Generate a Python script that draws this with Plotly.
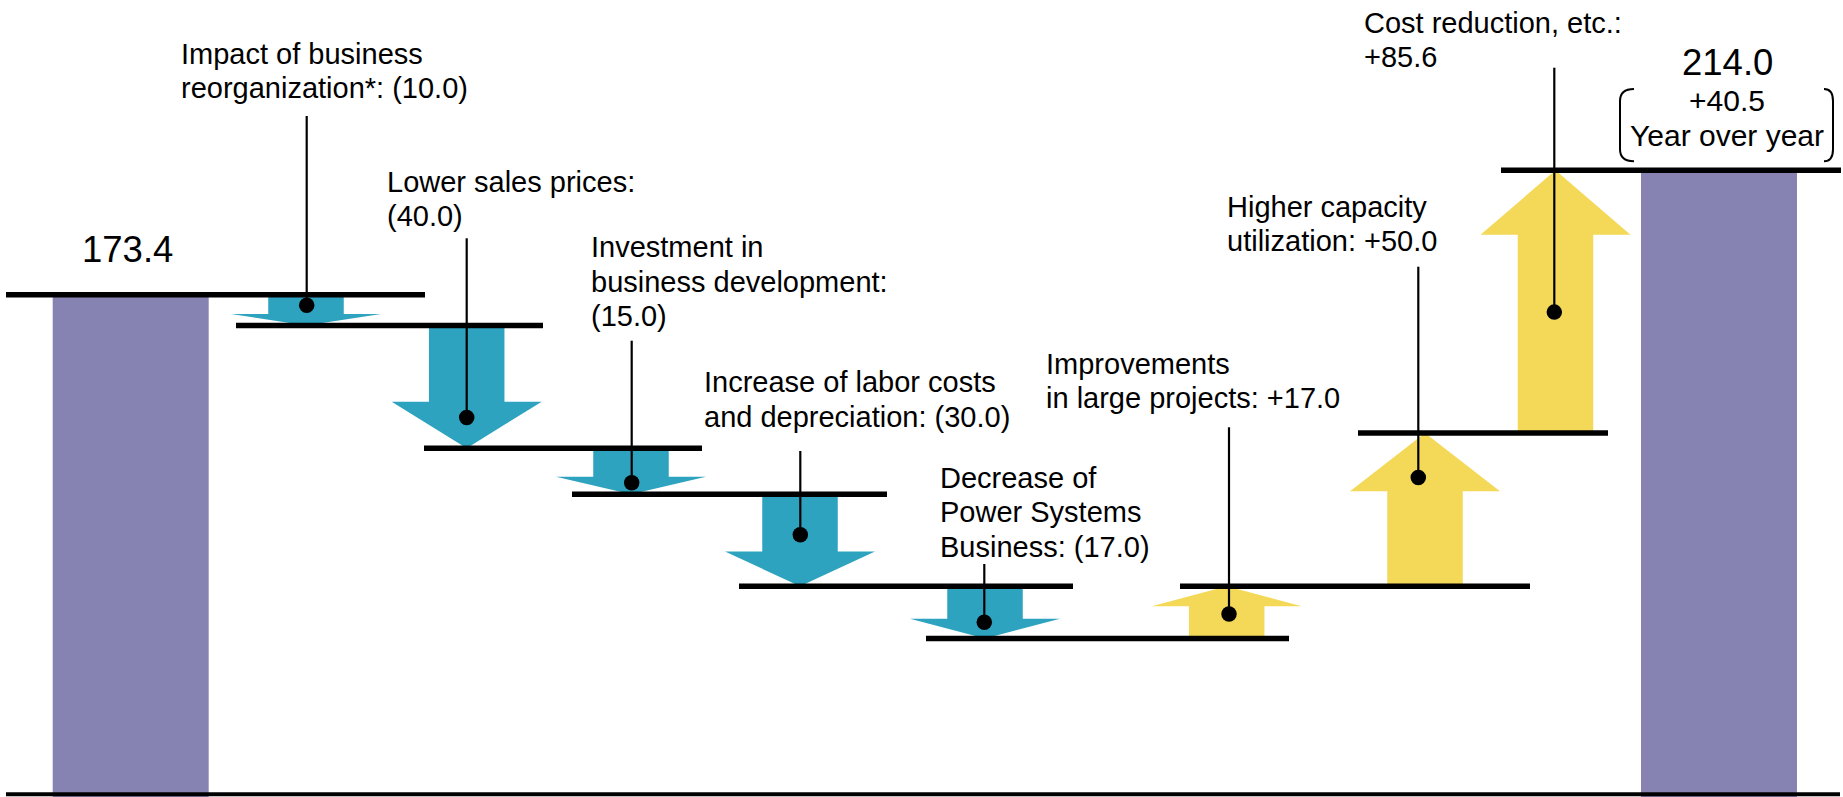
import plotly.graph_objects as go

# ---------------- data ----------------
start_value = 173.4
end_value = 214.0
total_labels = ["173.4", "214.0"]
yoy_text = "+40.5"
yoy_caption = "Year over year"

factor_values = [-10.0, -40.0, -15.0, -30.0, -17.0, 17.0, 50.0, 85.6]
factor_labels = [
    ["Impact of business", "reorganization*: (10.0)"],
    ["Lower sales prices:", "(40.0)"],
    ["Investment in", "business development:", "(15.0)"],
    ["Increase of labor costs", "and depreciation: (30.0)"],
    ["Decrease of", "Power Systems", "Business: (17.0)"],
    ["Improvements", "in large projects: +17.0"],
    ["Higher capacity", "utilization: +50.0"],
    ["Cost reduction, etc.:", "+85.6"],
]

# ---------------- layout / geometry (pixels) ----------------
W, H = 1843, 797
Y_TOP, Y_BOT = 269.5, 9.75            # value range of the (hidden) y axis

BAR_X = [130.7, 1719.0]
BAR_W = 156
ARROW_X = [306.0, 466.7, 631.0, 800.0, 985.0, 1226.7, 1425.0, 1555.5]
SHAFT_W, HEAD_W = 75.5, 150
HEAD_FRAC, HEAD_MAX = 0.38, 21.0

LINE_SPANS = [(6, 425), (236, 543), (424, 702), (572, 887), (739, 1073),
              (926, 1289), (1180, 1530), (1358, 1608), (1501, 1841)]
CALLOUT_X = [306.7, 466.7, 631.7, 800.3, 984.3, 1229.0, 1418.3, 1554.3]
CALLOUT_TOP_PX = [116, 238.3, 340.7, 451, 564, 427.3, 266.7, 67.7]
DOT_FRAC = [0.34, 0.75, 0.75, 0.44, 0.69, 0.47, 0.71, 0.46]
LABEL_LEFT = [180, 385.7, 590, 702.7, 938.7, 1045, 1226, 1363]
LABEL_BASE = [64, 191.7, 257.3, 392.3, 487.7, 374, 216.7, 33]
LINE_GAP = 34.5

PURPLE = "#8682B2"
TEAL = "#2EA3C0"
YELLOW = "#F4D958"
FONT = "Liberation Sans, Arial, sans-serif"
FS = 29


def px_to_val(py):
    return Y_TOP - py / H * (Y_TOP - Y_BOT)


def val_to_px(v):
    return (Y_TOP - v) / (Y_TOP - Y_BOT) * H


levels = [start_value]
for v in factor_values:
    levels.append(round(levels[-1] + v, 1))

fig = go.Figure()

# start / end totals
fig.add_trace(go.Bar(x=BAR_X, y=[start_value, end_value], width=BAR_W,
                     marker=dict(color=PURPLE, line=dict(width=0)),
                     hoverinfo="skip", showlegend=False))

# arrows
for i, v in enumerate(factor_values):
    s, e = levels[i], levels[i + 1]
    c = ARROW_X[i]
    h = min(HEAD_FRAC * abs(v), HEAD_MAX)
    sign = 1 if e > s else -1
    neck = e - sign * h
    xs = [c - SHAFT_W / 2, c + SHAFT_W / 2, c + SHAFT_W / 2, c + HEAD_W / 2, c,
          c - HEAD_W / 2, c - SHAFT_W / 2, c - SHAFT_W / 2]
    ys = [s, s, neck, neck, e, neck, neck, s]
    fig.add_trace(go.Scatter(x=xs, y=ys, mode="lines", fill="toself",
                             fillcolor=TEAL if v < 0 else YELLOW,
                             line=dict(width=0, color="rgba(0,0,0,0)"),
                             hoverinfo="skip", showlegend=False))

# level lines
for i, lvl in enumerate(levels):
    x0, x1 = LINE_SPANS[i]
    fig.add_trace(go.Scatter(x=[x0, x1], y=[lvl, lvl], mode="lines",
                             line=dict(color="black", width=5.5),
                             hoverinfo="skip", showlegend=False))

# baseline
fig.add_trace(go.Scatter(x=[6, 1840], y=[px_to_val(794.3)] * 2, mode="lines",
                         line=dict(color="black", width=4),
                         hoverinfo="skip", showlegend=False))

# callout lines and dots
dot_x, dot_y = [], []
for i, v in enumerate(factor_values):
    d = levels[i] + DOT_FRAC[i] * v
    fig.add_trace(go.Scatter(x=[CALLOUT_X[i]] * 2, y=[px_to_val(CALLOUT_TOP_PX[i]), d],
                             mode="lines", line=dict(color="black", width=2.2),
                             hoverinfo="skip", showlegend=False))
    dot_x.append(CALLOUT_X[i])
    dot_y.append(d)
fig.add_trace(go.Scatter(x=dot_x, y=dot_y, mode="markers",
                         marker=dict(color="black", size=15.5),
                         hoverinfo="skip", showlegend=False, cliponaxis=False))

annotations = []
for i, lines in enumerate(factor_labels):
    for k, txt in enumerate(lines):
        base = LABEL_BASE[i] + k * LINE_GAP
        annotations.append(dict(
            x=LABEL_LEFT[i] - 1, xref="x", xanchor="left",
            y=1 - (base - 0.3465 * FS) / H, yref="paper", yanchor="middle",
            text=txt, showarrow=False, font=dict(family=FONT, size=FS, color="black")))

# totals labels (relative to their bars)
BIG = 36.5
p173 = val_to_px(start_value)
base = p173 - 32.4
annotations.append(dict(x=127.5, xref="x", xanchor="center",
                        y=1 - (base - 0.3465 * BIG) / H, yref="paper", yanchor="middle",
                        text=total_labels[0], showarrow=False,
                        font=dict(family=FONT, size=BIG, color="black")))
p214 = val_to_px(end_value)
for txt, off, fs in [(total_labels[1], 94.7, BIG), (yoy_text, 59.0, 30), (yoy_caption, 24.0, 30)]:
    base = p214 - off
    annotations.append(dict(x=1727, xref="x", xanchor="center",
                            y=1 - (base - 0.3465 * fs) / H, yref="paper", yanchor="middle",
                            text=txt, showarrow=False,
                            font=dict(family=FONT, size=fs, color="black")))

# brackets around the year-over-year text
top_b = px_to_val(p214 - 81.4)
bot_b = px_to_val(p214 - 9.0)
r_top = px_to_val(p214 - 81.4 + 12)
r_bot = px_to_val(p214 - 9.0 - 12)
shapes = [
    dict(type="path", xref="x", yref="y",
         path=f"M 1634,{top_b} Q 1620,{top_b} 1620,{r_top} L 1620,{r_bot} Q 1620,{bot_b} 1634,{bot_b}",
         line=dict(color="black", width=2)),
    dict(type="path", xref="x", yref="y",
         path=f"M 1824,{top_b} Q 1833,{top_b} 1833,{r_top} L 1833,{r_bot} Q 1833,{bot_b} 1824,{bot_b}",
         line=dict(color="black", width=2)),
]

fig.update_layout(
    width=W, height=H,
    margin=dict(l=0, r=0, t=0, b=0, pad=0),
    paper_bgcolor="white", plot_bgcolor="white",
    xaxis=dict(range=[0, W], visible=False, fixedrange=True),
    yaxis=dict(range=[Y_BOT, Y_TOP], visible=False, fixedrange=True),
    showlegend=False,
    annotations=annotations,
    shapes=shapes,
)

fig.write_html("out.html", config={"displayModeBar": False},
               post_script="document.body.style.margin='0px';document.body.style.overflow='hidden';")
